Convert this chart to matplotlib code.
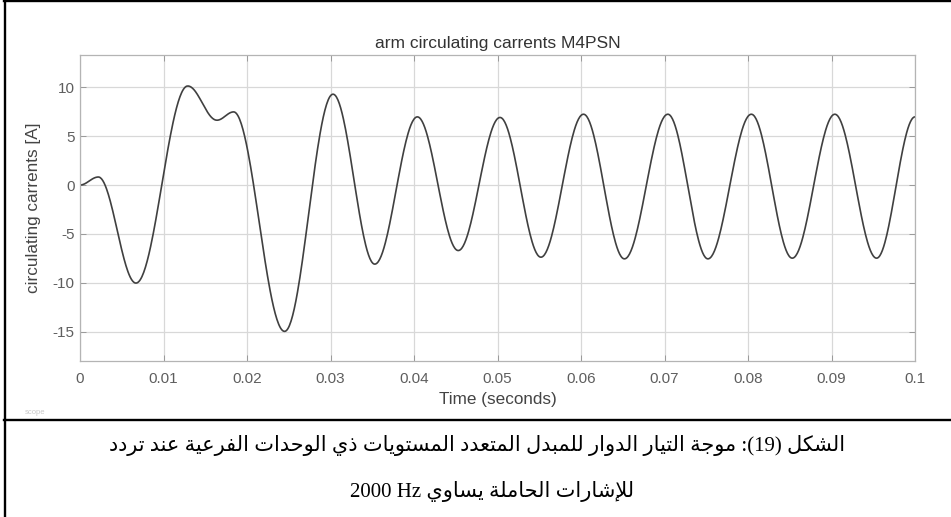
import numpy as np
import matplotlib
matplotlib.use("Agg")
import matplotlib.pyplot as plt
from matplotlib.lines import Line2D

# ---- waveform extrema (time in s, current in A) ----
time_s = [0.0, 0.0022, 0.0067, 0.0129, 0.0164, 0.0184, 0.0245, 0.0303,
          0.0353, 0.0404, 0.0453, 0.0503, 0.0552, 0.0603, 0.0652, 0.0704,
          0.0752, 0.0804, 0.0853, 0.0904, 0.0954, 0.1000]
current_a = [0.0, 0.82, -10.03, 10.13, 6.63, 7.48, -14.97, 9.29,
             -8.09, 6.97, -6.70, 6.91, -7.38, 7.24, -7.55, 7.24,
             -7.55, 7.24, -7.48, 7.24, -7.48, 6.97]

x_ticks = [0, 0.01, 0.02, 0.03, 0.04, 0.05, 0.06, 0.07, 0.08, 0.09, 0.1]
x_tick_labels = ["0", "0.01", "0.02", "0.03", "0.04", "0.05", "0.06",
                 "0.07", "0.08", "0.09", "0.1"]
y_ticks = [-15, -10, -5, 0, 5, 10]
y_tick_labels = ["-15", "-10", "-5", "0", "5", "10"]

title_text = "arm circulating carrents M4PSN"
x_label = "Time (seconds)"
y_label = "circulating carrents [A]"

caption_head = "الشكل"
caption_number = "(19)"
caption_rest = "موجة التيار الدوار للمبدل المتعدد المستويات ذي الوحدات الفرعية عند تردد"
caption_line2_ar = "للإشارات الحاملة يساوي"
caption_line2_unit = "2000 Hz"

# ---- Arabic contextual shaping (presentation forms) ----
FORMS = {
    'ا': ('\uFE8D', '\uFE8E', None, None),
    'إ': ('\uFE87', '\uFE88', None, None),
    'ب': ('\uFE8F', '\uFE90', '\uFE91', '\uFE92'),
    'ة': ('\uFE93', '\uFE94', None, None),
    'ت': ('\uFE95', '\uFE96', '\uFE97', '\uFE98'),
    'ج': ('\uFE9D', '\uFE9E', '\uFE9F', '\uFEA0'),
    'ح': ('\uFEA1', '\uFEA2', '\uFEA3', '\uFEA4'),
    'د': ('\uFEA9', '\uFEAA', None, None),
    'ذ': ('\uFEAB', '\uFEAC', None, None),
    'ر': ('\uFEAD', '\uFEAE', None, None),
    'س': ('\uFEB1', '\uFEB2', '\uFEB3', '\uFEB4'),
    'ش': ('\uFEB5', '\uFEB6', '\uFEB7', '\uFEB8'),
    'ع': ('\uFEC9', '\uFECA', '\uFECB', '\uFECC'),
    'ف': ('\uFED1', '\uFED2', '\uFED3', '\uFED4'),
    'ك': ('\uFED9', '\uFEDA', '\uFEDB', '\uFEDC'),
    'ل': ('\uFEDD', '\uFEDE', '\uFEDF', '\uFEE0'),
    'م': ('\uFEE1', '\uFEE2', '\uFEE3', '\uFEE4'),
    'ن': ('\uFEE5', '\uFEE6', '\uFEE7', '\uFEE8'),
    'و': ('\uFEED', '\uFEEE', None, None),
    'ي': ('\uFEF1', '\uFEF2', '\uFEF3', '\uFEF4'),
}
LAM_ALEF = {'ا': ('\uFEFB', '\uFEFC'), 'إ': ('\uFEF9', '\uFEFA')}


def shape(text):
    chars = list(text)
    n = len(chars)
    out = []
    joined = False
    i = 0
    while i < n:
        c = chars[i]
        if c == 'ل' and i + 1 < n and chars[i + 1] in LAM_ALEF:
            iso, fin = LAM_ALEF[chars[i + 1]]
            out.append(fin if joined else iso)
            joined = False
            i += 2
            continue
        if c not in FORMS:
            out.append(c)
            joined = False
            i += 1
            continue
        iso, fin, ini, med = FORMS[c]
        nxt = chars[i + 1] if i + 1 < n else None
        links_next = ini is not None and nxt in FORMS
        if joined and links_next:
            g = med
        elif joined:
            g = fin
        elif links_next:
            g = ini
        else:
            g = iso
        out.append(g)
        joined = links_next
        i += 1
    return ''.join(out)


def rtl(text):
    return shape(text)[::-1]


# ---- smooth curve through the extrema (half-cosine between turning points) ----
def smooth_path(ts, vs, per_seg=60):
    xs, ys = [], []
    for k in range(len(ts) - 1):
        s = np.linspace(0, 1, per_seg, endpoint=False)
        w = (1 - np.cos(np.pi * s)) / 2
        xs.append(ts[k] + (ts[k + 1] - ts[k]) * s)
        ys.append(vs[k] + (vs[k + 1] - vs[k]) * w)
    xs.append([ts[-1]])
    ys.append([vs[-1]])
    return np.concatenate(xs), np.concatenate(ys)


W, H = 951, 517
fig = plt.figure(figsize=(W / 100, H / 100), dpi=100)
fig.patch.set_facecolor("white")

ax = fig.add_axes([80 / W, 1 - 361 / H, 835 / W, 306 / H])
tx, ty = smooth_path(time_s, current_a)
ax.plot(tx, ty, color="#404040", lw=1.2, solid_capstyle="round")

ax.set_xlim(0, 0.1)
ax.set_ylim(-18, 13.3)
ax.set_xticks(x_ticks)
ax.set_xticklabels(x_tick_labels)
ax.set_yticks(y_ticks)
ax.set_yticklabels(y_tick_labels)

sans = "Liberation Sans"
tick_col = "#5e5e5e"
ax.tick_params(axis="both", direction="in", length=4, width=0.7,
               color="#9a9a9a", labelcolor=tick_col, labelsize=11,
               top=True, right=True)
ax.tick_params(axis="x", pad=8)
ax.tick_params(axis="y", pad=4)
for lab in ax.get_xticklabels() + ax.get_yticklabels():
    lab.set_fontfamily(sans)

ax.grid(True, color="#d8d8d8", lw=0.9)
ax.set_axisbelow(True)
for sp in ax.spines.values():
    sp.set_color("#b4b4b4")
    sp.set_linewidth(0.9)

ax.set_title(title_text, fontsize=12.5, color="#333333", family=sans, pad=5)
ax.set_xlabel(x_label, fontsize=12.3, color="#444444", family=sans, labelpad=4)
ax.set_ylabel(y_label, fontsize=12.3, color="#444444", family=sans, labelpad=8)

# ---- table frame lines ----
frame_kw = dict(transform=fig.transFigure, color="black", lw=1.7)
fig.add_artist(Line2D([5 / W, 5 / W], [0, 1], **frame_kw))
fig.add_artist(Line2D([4 / W, 1], [1 - 1.2 / H, 1 - 1.2 / H], **frame_kw))
fig.add_artist(Line2D([4 / W, 1], [1 - 420 / H, 1 - 420 / H], **frame_kw))

# faint tag under the plot
fig.text(25 / W, 1 - 412 / H, "scope", fontsize=5.5, color="#c8c8c8",
         family=sans, va="center")

# ---- caption ----
cap_family = ["Liberation Serif", "DejaVu Sans"]
line1 = rtl(caption_rest) + " :" + caption_number + " " + rtl(caption_head)
line2 = caption_line2_unit + " " + rtl(caption_line2_ar)
fig.text(477 / W, 1 - 445 / H, line1, fontsize=15, family=cap_family,
         ha="center", va="center", color="black")
fig.text(492 / W, 1 - 491 / H, line2, fontsize=15, family=cap_family,
         ha="center", va="center", color="black")

fig.savefig("out.png", dpi=100, facecolor="white")
